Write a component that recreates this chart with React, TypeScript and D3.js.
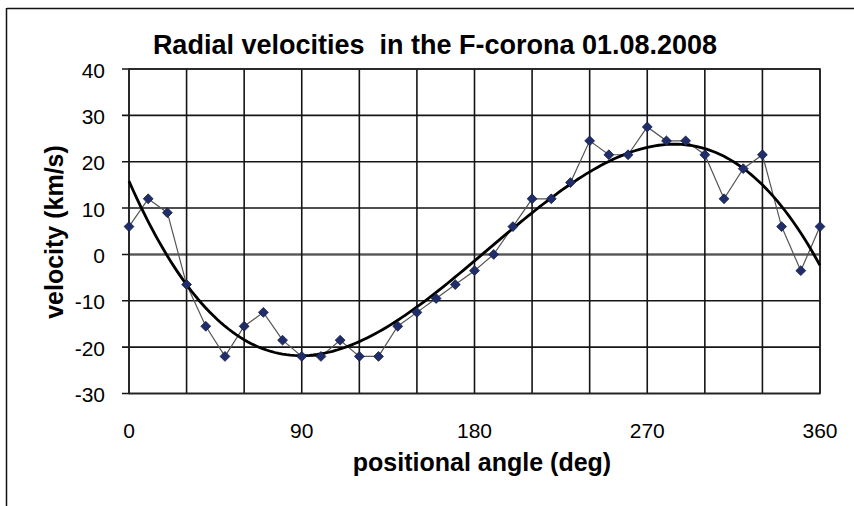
import React from "react";
import * as d3 from "d3";

const angles = [0,10,20,30,40,50,60,70,80,90,100,110,120,130,140,150,160,170,180,190,200,210,220,230,240,250,260,270,280,290,300,310,320,330,340,350,360];
const velocities = [6,12,9,-6.5,-15.5,-22,-15.5,-12.5,-18.5,-22,-22,-18.5,-22,-22,-15.5,-12.5,-9.5,-6.5,-3.5,0,6,12,12,15.5,24.5,21.5,21.5,27.5,24.5,24.5,21.5,12,18.5,21.5,6,-3.5,6];
const xTicks = [0,90,180,270,360];
const yTicks = [-30,-20,-10,0,10,20,30,40];
const xGrid = [0,30,60,90,120,150,180,210,240,270,300,330,360];
const title = "Radial velocities  in the F-corona 01.08.2008";
const xTitle = "positional angle (deg)";
const yTitle = "velocity (km/s)";

// least-squares polynomial trendline (as in the spreadsheet's trendline)
function polyFit(xs: number[], ys: number[], deg: number) {
  const s = 360;
  const n = deg + 1;
  const A: number[][] = Array.from({ length: n }, () => new Array(n + 1).fill(0));
  xs.forEach((x0, k) => {
    const x = x0 / s;
    for (let i = 0; i < n; i++) {
      for (let j = 0; j < n; j++) A[i][j] += Math.pow(x, i + j);
      A[i][n] += ys[k] * Math.pow(x, i);
    }
  });
  for (let i = 0; i < n; i++) {
    let p = i;
    for (let r = i + 1; r < n; r++) if (Math.abs(A[r][i]) > Math.abs(A[p][i])) p = r;
    [A[i], A[p]] = [A[p], A[i]];
    for (let r = 0; r < n; r++) {
      if (r === i) continue;
      const f = A[r][i] / A[i][i];
      for (let c = i; c <= n; c++) A[r][c] -= f * A[i][c];
    }
  }
  const coef = A.map((row, i) => row[n] / row[i]);
  return (x0: number) => coef.reduce((acc, c, i) => acc + c * Math.pow(x0 / s, i), 0);
}

export default function App() {
  const W = 854, H = 506;
  const x = d3.scaleLinear().domain([0, 360]).range([129, 820]);
  const y = d3.scaleLinear().domain([-30, 40]).range([393.5, 69]);
  const fit = polyFit(angles, velocities, 3);
  const trend = d3.range(0, 361, 2).map((a) => [a, fit(a)] as [number, number]);
  const lineGen = d3.line<[number, number]>().x((d) => x(d[0])).y((d) => y(d[1]));
  const dataLine = lineGen(angles.map((a, i) => [a, velocities[i]] as [number, number]));
  const trendLine = lineGen(trend);
  const diamond = d3.symbol().type(d3.symbolDiamond2).size(62)() as string;
  const font = "'Liberation Sans', Arial, sans-serif";
  const gridColor = "#151515";

  return (
    <svg width={W} height={H} style={{ position: "absolute", left: 0, top: 0, background: "#fff" }} fontFamily={font}>
      <rect x={0} y={0} width={W} height={H} fill="#fff" />
      <line x1={7} y1={8.5} x2={W} y2={8.5} stroke="#111" strokeWidth={1.5} />
      <line x1={6.5} y1={8} x2={6.5} y2={H} stroke="#111" strokeWidth={1.5} />
      <text x={435} y={54} textAnchor="middle" fontSize={27} fontWeight="bold" fill="#000" style={{ whiteSpace: "pre" }}>{title}</text>

      {yTicks.map((t) => (
        <g key={"y" + t}>
          <line x1={x(0) - 7} x2={x(360)} y1={y(t)} y2={y(t)} stroke={gridColor} strokeWidth={1.6} />
          <text x={105} y={y(t) + 8.5} textAnchor="end" fontSize={21} fill="#000">{t}</text>
        </g>
      ))}
      <line x1={x(0)} x2={x(360)} y1={y(0)} y2={y(0)} stroke="#8a8a8a" strokeWidth={3} />
      <line x1={x(0)} x2={x(360)} y1={y(0)} y2={y(0)} stroke="#444" strokeWidth={0.8} />
      {xGrid.map((t) => (
        <line key={"x" + t} x1={x(t)} x2={x(t)} y1={y(40)} y2={y(-30)} stroke={gridColor} strokeWidth={1.6} />
      ))}
      <rect x={x(0)} y={y(40)} width={x(360) - x(0)} height={y(-30) - y(40)} fill="none" stroke="#222" strokeWidth={1.6} />
      {xTicks.map((t) => (
        <text key={"xl" + t} x={x(t)} y={438} textAnchor="middle" fontSize={21} fill="#000">{t}</text>
      ))}

      <path d={dataLine || ""} fill="none" stroke="#555" strokeWidth={1.2} />
      <path d={trendLine || ""} fill="none" stroke="#000" strokeWidth={2.8} />
      {angles.map((a, i) => (
        <path key={"m" + a} d={diamond} transform={`translate(${x(a)},${y(velocities[i])})`} fill="#1f2d6b" stroke="#141c48" strokeWidth={0.8} />
      ))}

      <text x={482} y={471} textAnchor="middle" fontSize={25} fontWeight="bold" fill="#000">{xTitle}</text>
      <text transform={`translate(63,232) rotate(-90)`} textAnchor="middle" fontSize={25} fontWeight="bold" fill="#000">{yTitle}</text>
    </svg>
  );
}
